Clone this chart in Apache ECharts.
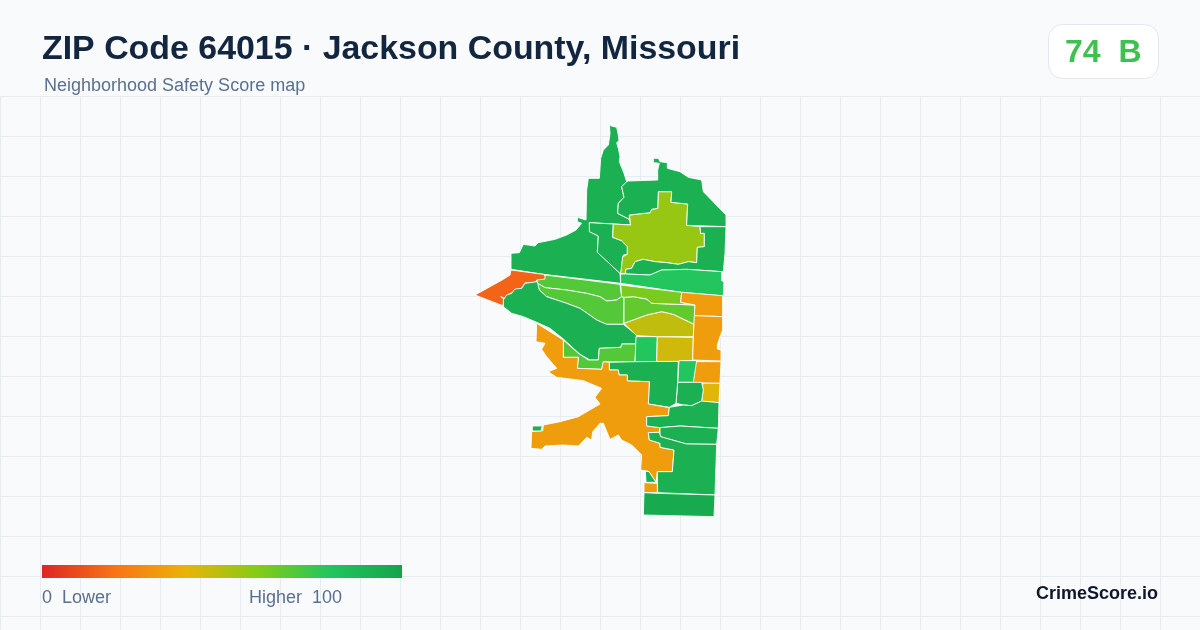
<!DOCTYPE html>
<html><head><meta charset="utf-8">
<style>html,body{margin:0;padding:0;background:#f8fafc}#c{width:1200px;height:630px}</style>
<script src="https://cdn.jsdelivr.net/npm/echarts@6/dist/echarts.min.js"></script>
</head><body><div id="c"></div>
<script>
// ---- text ----
const titleText = 'ZIP Code 64015 · Jackson County, Missouri';
const subtitleText = 'Neighborhood Safety Score map';
const scoreText = '74  B';
const brandText = 'CrimeScore.io';
const legendLow = '0  Lower';
const legendHigh = 'Higher  100';
const legendStops = ['#dc2626','#f97316','#eab308','#84cc16','#22c55e','#16a34a'];

// ---- region names and scores ----
const regionNames = ['northwest','inner','lime','northeast','east','brightband','redtip','band1','band2','west','lower','box1','box2','olive','band3','band4','amber1','amber2','amber3','yellow','box3','mid1','mid2','amberbig','islet','tri','amberbox','s1','s2','s3','s4'];
const regionScores = [92,92,56,92,92,80,16,70,70,92,70,80,45,48,67,62,33,33,33,42,80,92,92,33,92,92,33,92,92,92,96];

// ---- boundary traces: map-space outlines ----
const crop = (ox,oy) => pts => pts.map(([x,y]) => [ox+x/3, oy+y/3]);
const zA = crop(470,120), zB = crop(520,320), zC = crop(500,265);
const regionShapes = {
 northwest: zA([[418,13],[424,18],[440,22],[445,45],[447,62],[440,68],[445,85],[450,110],[448,125],[462,160],[470,185],[455,200],[462,232],[445,250],[443,280],[478,298],[482,315],[430,312],[358,308],[360,335],[385,348],[382,395],[450,460],[452,490],[220,463],[123,448],[123,400],[148,398],[160,373],[195,378],[205,368],[255,358],[290,345],[318,330],[335,310],[322,305],[322,292],[348,300],[350,210],[355,175],[388,175],[392,115],[400,90],[415,75],[420,40]]),
 inner: zA([[358,308],[430,312],[428,352],[455,362],[472,380],[472,403],[460,405],[452,462],[382,397],[385,348],[358,335]]),
 lime: zA([[565,215],[605,215],[603,247],[653,252],[650,316],[690,320],[692,340],[703,340],[703,380],[682,382],[680,428],[655,425],[625,433],[590,428],[555,425],[520,418],[495,425],[485,445],[467,448],[467,460],[452,462],[458,410],[472,403],[472,380],[455,362],[428,352],[430,312],[482,315],[478,285],[540,278],[545,268],[563,265]]),
 northeast: zA([[470,185],[475,183],[563,180],[563,150],[568,130],[550,128],[550,115],[565,115],[570,125],[592,128],[592,145],[630,155],[655,172],[695,180],[700,215],[768,285],[768,320],[650,316],[653,252],[603,247],[605,215],[565,215],[563,265],[545,268],[540,278],[478,285],[478,298],[443,280],[445,250],[462,232],[455,200]]),
 east: zA([[690,320],[768,320],[765,400],[760,455],[755,455],[650,448],[575,450],[540,465],[467,462],[467,448],[485,445],[495,425],[520,418],[555,425],[590,428],[625,433],[655,425],[680,428],[682,382],[703,380],[703,340],[692,340]]),
 brightband: zA([[452,462],[467,462],[540,465],[575,450],[650,448],[755,455],[755,482],[762,485],[760,528],[635,517],[452,490]]),
 redtip: zA([[123,450],[220,463],[232,475],[225,485],[200,480],[195,490],[165,488],[158,500],[148,515],[120,520],[105,535],[92,530],[105,540],[98,557],[15,525],[60,500],[100,478],[120,465]]),
 band1: zC([[135,30],[360,58],[365,95],[350,105],[320,108],[300,95],[260,85],[200,75],[135,68],[118,58],[110,58],[112,45],[135,42]]),
 band2: zC([[112,55],[118,58],[135,68],[200,75],[260,85],[300,95],[320,108],[350,105],[365,95],[372,97],[370,178],[320,178],[290,165],[240,130],[200,115],[140,95],[118,75]]),
 west: zC([[112,50],[75,55],[65,70],[45,72],[35,85],[20,90],[10,105],[10,125],[35,145],[70,155],[110,172],[150,190],[190,222],[240,268],[270,285],[295,285],[298,250],[363,247],[365,237],[408,237],[410,210],[370,178],[320,178],[290,165],[240,130],[200,115],[140,95],[118,75]]),
 lower: zB([[130,60],[175,100],[205,120],[235,120],[238,85],[303,82],[305,72],[348,72],[345,125],[250,125],[245,148],[172,145],[175,112],[130,112]]),
 box1: zB([[348,50],[412,50],[410,130],[345,128]]),
 box2: zB([[412,50],[520,52],[518,122],[470,125],[410,130]]),
 olive: zC([[372,175],[440,150],[485,140],[520,148],[582,178],[580,215],[470,215],[410,212]]),
 band3: zC([[372,97],[400,95],[440,102],[455,115],[585,120],[583,178],[520,148],[485,140],[440,150],[372,175]]),
 band4: zC([[362,60],[545,82],[542,112],[585,120],[455,115],[440,102],[400,95],[372,97],[365,95]]),
 amber1: zC([[545,82],[668,92],[668,155],[583,152],[585,120],[542,112]]),
 amber2: zC([[583,152],[668,155],[668,195],[660,215],[652,240],[652,252],[663,255],[663,288],[578,285],[580,215]]),
 amber3: zB([[525,125],[603,125],[600,190],[520,188]]),
 yellow: zB([[548,190],[600,190],[597,248],[545,245],[548,220]]),
 box3: zB([[477,122],[530,122],[520,187],[473,187]]),
 mid1: zB([[473,187],[545,187],[550,210],[545,243],[515,257],[490,255],[468,250]]),
 mid2: zB([[268,127],[345,125],[475,124],[473,187],[468,250],[448,262],[385,252],[388,185],[322,183],[322,165],[297,165],[295,150],[268,150]]),
 amberbig: zB([[50,10],[130,60],[130,112],[175,112],[172,145],[245,148],[250,125],[268,127],[268,150],[295,150],[297,165],[322,165],[322,183],[388,185],[385,252],[448,263],[445,287],[380,290],[380,318],[420,323],[418,337],[385,338],[388,360],[420,370],[420,382],[462,390],[457,455],[412,455],[408,487],[387,455],[375,452],[362,450],[365,405],[335,375],[305,360],[295,345],[270,358],[250,310],[240,310],[218,335],[215,360],[200,352],[175,378],[130,375],[75,378],[65,388],[33,385],[35,335],[68,332],[70,315],[120,305],[175,290],[240,252],[225,232],[245,205],[190,182],[110,172],[85,155],[110,145],[80,110],[65,88],[75,70],[48,65]]),
 islet: zB([[37,318],[67,318],[63,333],[37,333]]),
 tri: zB([[376,453],[387,455],[408,487],[378,487]]),
 amberbox: zB([[372,488],[412,490],[412,518],[372,518]]),
 s1: zB([[380,290],[445,287],[448,262],[490,255],[515,257],[545,243],[597,248],[595,325],[480,318],[420,323],[380,318]]),
 s2: zB([[420,323],[480,318],[595,325],[590,373],[500,372],[420,350]]),
 s3: zB([[385,338],[418,337],[422,350],[500,372],[590,373],[585,525],[413,518],[412,455],[457,455],[462,390],[420,382],[420,370],[388,360]]),
 s4: zB([[372,518],[412,520],[585,525],[582,590],[370,585]])
};

const features = regionNames.map(name => {
  const ring = regionShapes[name].concat([regionShapes[name][0]]);
  return {type:'Feature', properties:{name}, geometry:{type:'Polygon', coordinates:[ring]}};
});
echarts.registerMap('zip64015', {type:'FeatureCollection', features});

const chart = echarts.init(document.getElementById('c'), null, {renderer:'canvas'});
const flat = {project:p=>p, unproject:p=>p};
const gridColor = '#e5edf1';
const axisOff = {axisLine:{show:false},axisTick:{show:false},axisLabel:{show:false},splitLine:{show:true,lineStyle:{color:gridColor,width:1}},z:-1};
const legendGradient = new echarts.graphic.LinearGradient(0,0,1,0,legendStops.map((color,i)=>({offset:i/(legendStops.length-1),color})));
chart.setOption({
  animation:false,
  backgroundColor:'#f8fafc',
  title:[
    {text:titleText,left:42,top:33,padding:0,textStyle:{fontFamily:'Liberation Sans',fontSize:33.9,fontWeight:'bold',color:'#12263f'}},
    {text:subtitleText,left:44,top:77,padding:0,textStyle:{fontFamily:'Liberation Sans',fontSize:18,fontWeight:'normal',color:'#5a7090'}},
    {text:legendLow,left:42,top:589,padding:0,textStyle:{fontFamily:'Liberation Sans',fontSize:18,fontWeight:'normal',color:'#5a7090'}},
    {text:legendHigh,left:249,top:589,padding:0,textStyle:{fontFamily:'Liberation Sans',fontSize:18,fontWeight:'normal',color:'#5a7090'}},
    {text:brandText,right:42,top:585,padding:0,textStyle:{fontFamily:'Liberation Sans',fontSize:18,fontWeight:'bold',color:'#0f172a'}}
  ],
  grid:{left:0.5,right:0,top:96.5,bottom:0,show:false},
  xAxis:Object.assign({type:'value',min:0,max:1199.5,interval:40},axisOff),
  yAxis:Object.assign({type:'value',inverse:true,min:0,max:533.5,interval:40},axisOff),
  geo:{map:'zip64015',z:3,projection:flat,boundingCoords:[[0,0],[1200,630]],left:0,top:0,width:1200,height:630,roam:false,silent:true,
    label:{show:false},itemStyle:{borderColor:'#ffffff',borderWidth:0.9,areaColor:'#ccc'},emphasis:{disabled:true}},
  visualMap:{type:'continuous',show:false,min:0,max:100,seriesIndex:0,inRange:{color:legendStops}},
  series:[{type:'map',geoIndex:0,silent:true,data:regionNames.map((n,i)=>({name:n,value:regionScores[i]}))}],
  graphic:[
    {type:'rect',left:42,top:565,shape:{width:360,height:13},style:{fill:legendGradient},z:5},
    {type:'rect',left:1048,top:24,shape:{width:110,height:54,r:14},style:{fill:'#ffffff',stroke:'#e2e8f0',lineWidth:1},z:5},
    {type:'text',left:1065,top:37,style:{text:scoreText,font:'bold 32px "Liberation Sans"',fill:'#3fc14f'},z:6}
  ]
});
</script></body></html>
